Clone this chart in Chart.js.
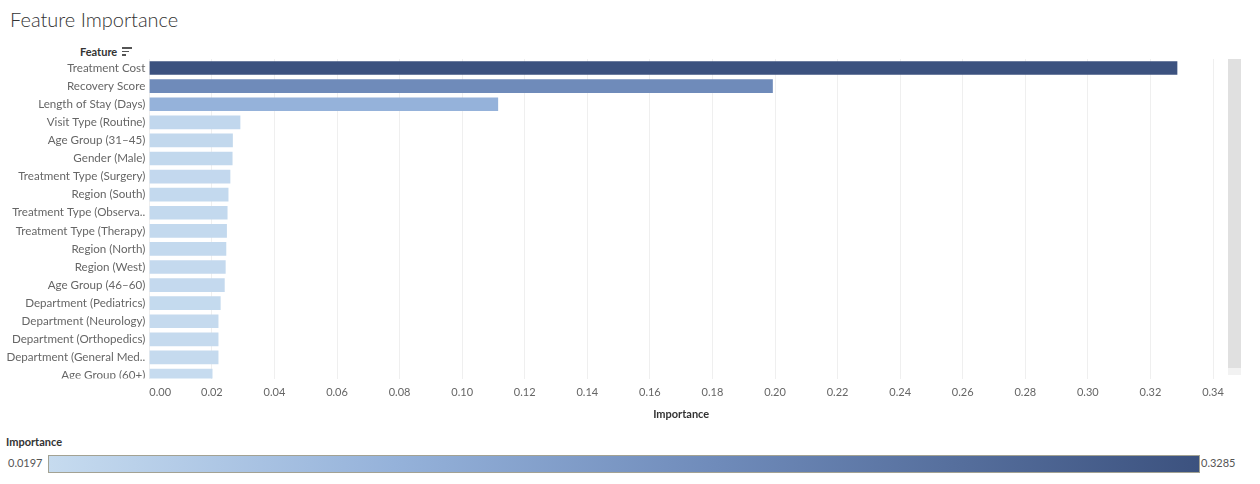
<!DOCTYPE html>
<html><head><meta charset="utf-8">
<script src="https://cdn.jsdelivr.net/npm/chart.js@4.4.1/dist/chart.umd.min.js"></script>
<style>
html,body{margin:0;padding:0;background:#fff;width:1260px;height:484px;overflow:hidden;font-family:Lato,"Open Sans",sans-serif;}
#title{position:absolute;left:10px;top:7px;font-size:20px;color:#333;font-weight:300;white-space:nowrap;}
#hdr{position:absolute;left:80px;top:45px;font-size:11px;color:#333;font-weight:bold;white-space:nowrap;}
#sorticon{position:absolute;left:122px;top:47px;width:10px;height:9px;}
#sorticon div{position:absolute;left:0;height:1.5px;background:#555;}
#wrap{position:absolute;left:0;top:0;width:1260px;height:424px;}
#scroll{position:absolute;left:1228px;top:59px;width:13px;height:309px;background:#e0e0e0;}
#scroll2{position:absolute;left:1228px;top:368px;width:13px;height:7px;background:#f2f2f2;}
#legtitle{position:absolute;left:6px;top:435px;font-size:11px;color:#333;font-weight:bold;}
#legbox{position:absolute;left:48px;top:455px;width:1150px;height:16px;border:1px solid #a3a293;}
#legmin{position:absolute;left:8px;top:456px;font-size:11px;color:#555;}
#legmax{position:absolute;left:1201px;top:456px;font-size:11px;color:#555;}
</style>
</head><body>
<div id="title">Feature Importance</div>
<div id="hdr">Feature</div>
<div id="sorticon"><div style="top:0;width:10px"></div><div style="top:3.5px;width:7px"></div><div style="top:7px;width:4px"></div></div>
<div id="wrap"><canvas id="c" width="1260" height="424"></canvas></div>
<div id="scroll"></div><div id="scroll2"></div>
<div id="legtitle">Importance</div>
<div id="legmin"></div><div id="legbox"></div><div id="legmax"></div>
<script>
const categories = [
  "Treatment Cost","Recovery Score","Length of Stay (Days)","Visit Type (Routine)",
  "Age Group (31\u201345)","Gender (Male)","Treatment Type (Surgery)","Region (South)",
  "Treatment Type (Observa..","Treatment Type (Therapy)","Region (North)","Region (West)",
  "Age Group (46\u201360)","Department (Pediatrics)","Department (Neurology)",
  "Department (Orthopedics)","Department (General Med..","Age Group (60+)"
];
const importance = [
  0.3285,0.1992,0.1114,0.0290,
  0.0266,0.0265,0.0258,0.0252,
  0.0249,0.0247,0.0245,0.0243,
  0.0240,0.0227,0.0220,
  0.0220,0.0220,0.0201
];
const xAxisMin = 0, xAxisMax = 0.34, xAxisStep = 0.02;
const legendRange = [0.0197, 0.3285];
const colorStops = [[0,[198,219,239]],[0.3,[149,178,218]],[0.58,[111,139,186]],[1,[60,82,127]]];

function colorAt(t){
  t = Math.max(0, Math.min(1, t));
  for (let i=1;i<colorStops.length;i++){
    const [t1,c1] = colorStops[i-1], [t2,c2] = colorStops[i];
    if (t <= t2){
      const f = (t - t1)/(t2 - t1);
      const c = c1.map((v,k)=>Math.round(v + (c2[k]-v)*f));
      return 'rgb('+c.join(',')+')';
    }
  }
  return 'rgb('+colorStops[colorStops.length-1][1].join(',')+')';
}
function colorFor(v){ return colorAt((v-legendRange[0])/(legendRange[1]-legendRange[0])); }

document.getElementById('legmin').textContent = legendRange[0].toFixed(4);
document.getElementById('legmax').textContent = legendRange[1].toFixed(4);
document.getElementById('legbox').style.background =
  'linear-gradient(to right,' + colorStops.map(s=>'rgb('+s[1].join(',')+') '+(s[0]*100)+'%').join(',') + ')';

const axisTweaks = {
  id:'axisTweaks',
  afterLayout(chart){
    const s = chart.scales.y;
    if (s && !s.__patched){
      const orig = s.drawLabels.bind(s);
      s.drawLabels = function(area){
        const ctx = this.ctx, ca = chart.chartArea;
        ctx.save(); ctx.beginPath();
        ctx.rect(0, ca.top - 20, ca.left, ca.bottom - ca.top + 20);
        ctx.clip(); orig(area); ctx.restore();
      };
      s.__patched = true;
    }
    const x = chart.scales.x;
    if (x && !x.__patched){
      const origItems = x._computeLabelItems.bind(x);
      x._computeLabelItems = function(area){
        const items = origItems(area);
        if (items.length) items[0].options.textAlign = 'left';
        return items;
      };
      x._labelItems = null;
      x.__patched = true;
    }
  }
};

const fontFam = 'Lato, "Open Sans", sans-serif';
new Chart(document.getElementById('c'), {
  type:'bar',
  data:{
    datasets:[{
      data: importance.map((v,i)=>({x:v,y:i})),
      backgroundColor: importance.map(colorFor),
      barThickness: 13,
      borderWidth: 0
    }]
  },
  options:{
    indexAxis:'y',
    responsive:false,
    animation:false,
    layout:{padding:{top:59,right:47,bottom:3,left:0}},
    plugins:{legend:{display:false},tooltip:{enabled:false}},
    scales:{
      x:{
        type:'linear', min:xAxisMin, max:xAxisMax,
        ticks:{stepSize:xAxisStep, callback:v=>Number(v).toFixed(2), color:'#666', font:{family:fontFam,size:11}, padding:7, maxRotation:0},
        grid:{color:'#efefef', drawTicks:false},
        border:{display:false},
        title:{display:true,text:'Importance',color:'#333',font:{family:fontFam,size:11,weight:'bold'},padding:{top:2,bottom:0}}
      },
      y:{
        type:'linear', reverse:true, min:-0.5, max:17.17, offset:false,
        afterBuildTicks: s => { s.ticks = categories.map((c,i)=>({value:i})); },
        afterFit: s => { s.width = 149.3; s.paddingTop = 0; s.paddingBottom = 0; },
        ticks:{callback:v=>categories[v] ?? '', autoSkip:false, color:'#666', font:{family:fontFam,size:11.6}, padding:4},
        grid:{display:false, drawTicks:false, offset:false},
        border:{display:false}
      }
    }
  },
  plugins:[axisTweaks]
});
</script>
</body></html>
